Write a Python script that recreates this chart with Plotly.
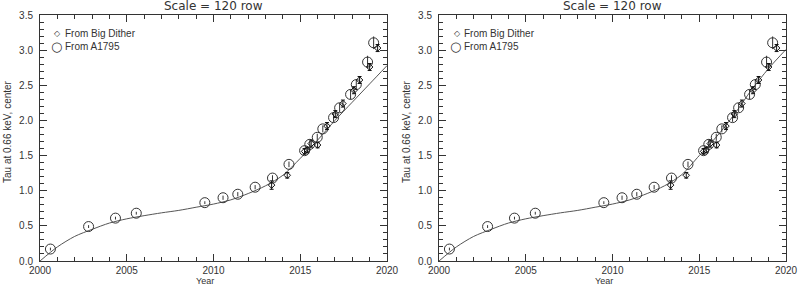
import plotly.graph_objects as go

# ---- data ----
circle_year = [2000.6, 2002.8, 2004.35, 2005.55, 2009.5, 2010.55, 2011.4, 2012.4, 2013.4, 2014.35,
               2015.25, 2015.55, 2015.98, 2016.3, 2016.92, 2017.27, 2017.9, 2018.23, 2018.88, 2019.23]
circle_tau = [0.17, 0.49, 0.61, 0.68, 0.83, 0.90, 0.95, 1.05, 1.18, 1.375,
              1.57, 1.66, 1.76, 1.88, 2.04, 2.18, 2.37, 2.51, 2.83, 3.105]
circle_err = [0.02, 0.02, 0.02, 0.02, 0.02, 0.03, 0.03, 0.03, 0.04, 0.04,
              0.04, 0.05, 0.05, 0.05, 0.06, 0.06, 0.07, 0.07, 0.09, 0.09]

diamond_year = [2013.35, 2014.25, 2015.25, 2015.4, 2015.63, 2016.0, 2016.54, 2017.02, 2017.46,
                2018.1, 2018.42, 2019.0, 2019.46]
diamond_tau = [1.08, 1.22, 1.56, 1.58, 1.67, 1.65, 1.92, 2.09, 2.24, 2.43, 2.575, 2.76, 3.03]
diamond_err = [0.06, 0.04, 0.04, 0.04, 0.05, 0.04, 0.05, 0.05, 0.05, 0.05, 0.05, 0.05, 0.05]

curve_year = [2000, 2001, 2002, 2003, 2004, 2005, 2006, 2007, 2008, 2009, 2010,
              2011, 2012, 2013, 2014, 2015, 2016, 2017, 2018, 2019, 2020]
curve_left = [0.0, 0.2, 0.35, 0.45, 0.54, 0.6, 0.645, 0.685, 0.72, 0.765, 0.81,
              0.87, 0.96, 1.07, 1.22, 1.46, 1.72, 2.0, 2.26, 2.52, 2.78]
curve_right = [0.0, 0.2, 0.35, 0.45, 0.54, 0.6, 0.645, 0.685, 0.72, 0.765, 0.81,
               0.87, 0.96, 1.07, 1.23, 1.5, 1.77, 2.08, 2.43, 2.74, 3.01]

panel_title = "Scale = 120 row"
x_title = "Year"
y_title = "Tau at 0.66 keV, center"
legend_labels = ["From Big Dither", "From A1795"]
x_ticks = [2000, 2005, 2010, 2015, 2020]
y_ticks = [0.0, 0.5, 1.0, 1.5, 2.0, 2.5, 3.0, 3.5]

INK = "#333333"
FONT = "Liberation Sans"
W, H = 800, 288

fig = go.Figure()

panels = [("x", "y", curve_left), ("x2", "y2", curve_right)]
for xa, ya, curve in panels:
    fig.add_trace(go.Scatter(x=curve_year, y=curve, mode="lines",
                             line=dict(color="#555555", width=1, shape="spline", smoothing=0.8),
                             xaxis=xa, yaxis=ya, showlegend=False, hoverinfo="skip"))
    fig.add_trace(go.Scatter(x=circle_year, y=circle_tau, mode="markers",
                             marker=dict(symbol="circle-open", size=10, color=INK, line=dict(width=1, color=INK)),
                             error_y=dict(type="data", array=circle_err, color=INK, thickness=1, width=0),
                             xaxis=xa, yaxis=ya, showlegend=False))
    fig.add_trace(go.Scatter(x=diamond_year, y=diamond_tau, mode="markers",
                             marker=dict(symbol="diamond-open", size=5, color="#111111",
                                         line=dict(width=1, color="#111111")),
                             error_y=dict(type="data", array=diamond_err, color="#111111", thickness=1, width=2),
                             xaxis=xa, yaxis=ya, showlegend=False))


def px_x(p):
    return p / W


def px_y(p):
    return 1 - p / H


common_x = dict(range=[2000, 2020], tickvals=x_ticks, ticks="inside", ticklen=7, tickcolor=INK,
                showline=True, linecolor=INK, linewidth=1, mirror="ticks", showgrid=False, zeroline=False,
                tickfont=dict(family=FONT, size=10, color=INK), ticklabelstandoff=0,
                minor=dict(dtick=1, ticks="inside", ticklen=4, tickcolor=INK, showgrid=False))
common_y = dict(range=[0, 3.5], tickvals=y_ticks, ticktext=[f"{v:.1f}" for v in y_ticks], ticks="inside",
                ticklen=7, tickcolor=INK, showline=True, linecolor=INK, linewidth=1, mirror="ticks",
                showgrid=False, zeroline=False,
                tickfont=dict(family=FONT, size=10, color=INK), ticklabelstandoff=4,
                minor=dict(dtick=0.1, ticks="inside", ticklen=4, tickcolor=INK, showgrid=False))

ydom = [px_y(261), px_y(15)]
fig.update_layout(
    width=W, height=H, margin=dict(l=0, r=0, t=0, b=0, autoexpand=False),
    paper_bgcolor="white", plot_bgcolor="white", showlegend=False,
    xaxis=dict(domain=[px_x(40), px_x(387)], anchor="y", **common_x),
    yaxis=dict(domain=ydom, anchor="x", **common_y),
    xaxis2=dict(domain=[px_x(439), px_x(786)], anchor="y2", **common_x),
    yaxis2=dict(domain=ydom, anchor="x2", **common_y),
)

ann = []
for left, right in [(40, 387), (439, 786)]:
    cx = (left + right) / 2
    ann.append(dict(text=panel_title, x=px_x(cx), y=px_y(6), xref="paper", yref="paper", showarrow=False,
                    xanchor="center", yanchor="middle", font=dict(family="DejaVu Sans", size=12, color=INK)))
    ann.append(dict(text=x_title, x=px_x(cx - 9), y=px_y(288), xref="paper", yref="paper", showarrow=False,
                    xanchor="center", yanchor="bottom", font=dict(family=FONT, size=9, color=INK)))
    ann.append(dict(text=y_title, x=px_x(left - 32), y=px_y(132), xref="paper", yref="paper", showarrow=False,
                    textangle=-90, xanchor="center", yanchor="middle", font=dict(family=FONT, size=10, color=INK)))
    ann.append(dict(text="\u25c7", x=px_x(left + 18), y=px_y(33), xref="paper", yref="paper", showarrow=False,
                    xanchor="center", yanchor="middle", font=dict(family="DejaVu Sans", size=8, color=INK)))
    ann.append(dict(text="\u25cb", x=px_x(left + 17), y=px_y(46), xref="paper", yref="paper", showarrow=False,
                    xanchor="center", yanchor="middle", font=dict(family="DejaVu Sans", size=13, color=INK)))
    ann.append(dict(text=legend_labels[0], x=px_x(left + 23), y=px_y(33), xref="paper", yref="paper",
                    showarrow=False, xanchor="left", yanchor="middle", font=dict(family=FONT, size=10, color=INK)))
    ann.append(dict(text=legend_labels[1], x=px_x(left + 23), y=px_y(46), xref="paper", yref="paper",
                    showarrow=False, xanchor="left", yanchor="middle", font=dict(family=FONT, size=10, color=INK)))
fig.update_layout(annotations=ann)

fig.write_html("out.html", config={"displayModeBar": False},
               post_script="document.body.style.margin='0';document.body.style.overflow='hidden';")
